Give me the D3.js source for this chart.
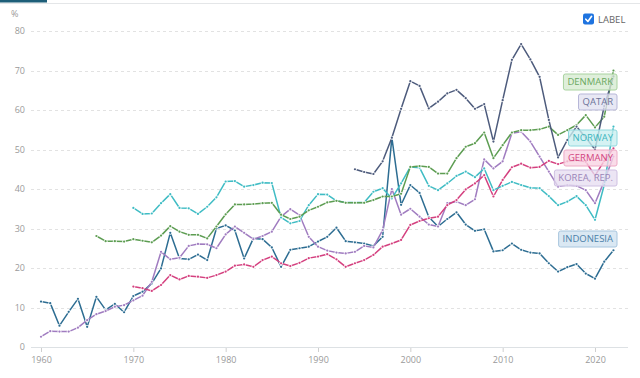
<!DOCTYPE html>
<html><head><meta charset="utf-8">
<script src="https://cdn.jsdelivr.net/npm/d3@7"></script>
<style>
body{margin:0;background:#fff;}
svg{display:block;font-family:"Open Sans",sans-serif;}
</style>
</head><body>
<svg id="chart" width="640" height="378"></svg>
<script>
// ---- data ----
const xTicks = [1960, 1970, 1980, 1990, 2000, 2010, 2020];
const yTicks = [0, 10, 20, 30, 40, 50, 60, 70, 80];
const countries = ["DENMARK", "QATAR", "NORWAY", "GERMANY", "KOREA, REP.", "INDONESIA"];
const startYears = [1966, 1994, 1970, 1970, 1960, 1960];

const denmark = [28.1, 26.8, 26.8, 26.7,
  27.3, 26.9, 26.5, 28.2, 30.6, 29.2, 28.4, 28.4, 27.5, 30.5,
  33.6, 36.1, 36.1, 36.2, 36.4, 36.5, 33.5, 32.4, 33.0, 34.6,
  35.5, 36.6, 37.0, 36.5, 36.5, 36.5, 37.2, 38.1, 38.1, 38.8,
  45.6, 45.8, 45.6, 43.9, 43.9, 47.8, 50.7, 51.6, 54.3, 47.8,
  51.1, 54.3, 54.9, 54.9, 55.1, 55.8, 53.7, 54.9, 56.2, 58.7,
  55.6, 58.3, 70.0];
const qatar = [45.0, 44.3, 43.8, 47.0, 53.0, 60.3,
  67.3, 66.1, 60.4, 62.1, 64.2, 65.1, 63.0, 60.3, 61.5, 52.0,
  62.5, 72.7, 76.7, 72.8, 68.4, 57.5, 48.0, 52.4, 55.8, 53.0,
  50.0, 61.0, 68.5];
const norway = [35.2, 33.7, 33.8, 36.4, 38.7, 35.2, 35.1, 33.7, 35.5, 37.9,
  41.9, 42.0, 40.6, 41.0, 41.6, 41.5, 32.8, 31.3, 31.9, 35.9,
  38.7, 38.6, 37.0, 36.6, 36.6, 36.6, 39.3, 40.2, 37.6, 41.4,
  45.6, 45.4, 40.8, 39.7, 41.4, 43.3, 44.4, 43.0, 45.2, 39.7,
  40.8, 41.8, 41.0, 40.3, 40.2, 38.2, 35.9, 36.8, 38.2, 35.9,
  32.2, 41.0, 55.8];
const germany = [15.3, 14.9, 14.2, 15.7, 18.2, 17.1, 18.0, 17.8, 17.5, 18.2,
  19.1, 20.6, 20.9, 20.3, 22.0, 22.9, 21.2, 20.5, 21.3, 22.5,
  22.9, 23.5, 22.2, 20.3, 21.2, 22.0, 23.3, 25.4, 26.2, 27.1,
  30.9, 31.9, 32.6, 33.0, 35.9, 37.2, 39.9, 41.4, 43.5, 38.1,
  42.3, 45.5, 46.4, 45.4, 45.6, 47.1, 46.3, 47.0, 47.3, 46.9,
  43.4, 47.1, 50.3];
const korea = [2.6, 4.0, 3.9, 3.9, 4.9, 6.8, 8.3, 9.1, 10.2, 10.6,
  11.8, 13.0, 16.5, 24.1, 22.2, 22.6, 25.6, 26.1, 26.0, 25.0,
  28.5, 30.5, 28.9, 27.3, 28.1, 29.2, 33.0, 34.9, 33.4, 27.9,
  25.4, 24.4, 23.9, 23.7, 24.1, 25.6, 25.2, 29.6, 40.0, 33.5,
  35.0, 33.0, 31.0, 30.5, 36.4, 36.8, 35.9, 37.4, 47.5, 45.2,
  47.0, 54.1, 54.5, 52.0, 48.2, 44.4, 40.6, 41.0, 40.8, 39.7,
  36.4, 42.0, 48.2];
const indonesia = [11.5, 11.1, 5.4, 8.9, 12.2, 5.1, 12.7, 9.4, 10.9, 8.8,
  12.9, 14.0, 16.1, 19.9, 28.9, 22.4, 22.2, 23.4, 22.0, 30.0,
  30.8, 29.5, 22.4, 27.5, 27.3, 25.2, 20.3, 24.6, 25.0, 25.4,
  26.7, 27.9, 30.2, 26.8, 26.5, 26.2, 25.6, 27.9, 53.0, 36.0,
  41.0, 39.0, 32.9, 30.5, 32.4, 34.1, 31.0, 29.4, 29.8, 24.2,
  24.5, 26.2, 24.6, 23.9, 23.7, 21.2, 19.1, 20.2, 21.0, 18.6,
  17.3, 21.6, 24.5];

const seriesValues = [denmark, qatar, norway, germany, korea, indonesia];

// ---- styles / layout ----
const lineColors = ["#5d9d52", "#4d5b7c", "#3fbcc4", "#d4407f", "#a07cc0", "#2d6d92"];
const boxFill   = ["#d6ebd1", "#e1e1f1", "#c9eef0", "#f8d4e3", "#e7def1", "#d0e1ef"];
const boxStroke = ["#a9d3a0", "#b7b7d8", "#90d8dd", "#eeaac6", "#cfc0e2", "#a8c6de"];
const textFill  = ["#6aa85f", "#6c7399", "#3db6be", "#d2457f", "#9a84b8", "#4a7fa8"];
const boxTops   = [74, 94, 130, 150, 170, 231];
const drawOrder = [5, 4, 3, 2, 0, 1];

const svg = d3.select("#chart");
const x = d3.scaleLinear().domain([1960, 2020]).range([41, 595]);
const y = d3.scaleLinear().domain([0, 80]).range([347, 31]);
const gridLeft = 31, gridRight = 628;

// top decoration
svg.append("line").attr("x1", 0).attr("x2", 640).attr("y1", 3.5).attr("y2", 3.5)
  .attr("stroke", "#e4e6e8").attr("stroke-width", 1);
svg.append("rect").attr("x", 0).attr("y", 0).attr("width", 47).attr("height", 2.5).attr("fill", "#1d5e78");

// gridlines
svg.append("g").selectAll("line").data(yTicks).join("line")
  .attr("x1", gridLeft).attr("x2", gridRight)
  .attr("y1", d => Math.round(y(d)) + 0.5).attr("y2", d => Math.round(y(d)) + 0.5)
  .attr("stroke", d => d === 0 ? "#dde1e4" : "#e2e2e2")
  .attr("stroke-dasharray", d => d === 0 ? null : "3,3");

// y labels
svg.append("g").selectAll("text").data(yTicks).join("text")
  .attr("x", 25).attr("y", d => y(d)).attr("dy", "0.35em")
  .attr("text-anchor", "end").attr("font-size", 9).attr("fill", "#9a9a9a")
  .text(d => d);
svg.append("text").attr("x", 11).attr("y", 17).attr("font-size", 9).attr("fill", "#9a9a9a").text("%");

// x axis ticks/labels
const xAxis = d3.axisBottom(x).tickValues(xTicks).tickFormat(d3.format("d")).tickSize(4).tickPadding(5);
const gx = svg.append("g").attr("transform", "translate(0,348)").call(xAxis);
gx.select(".domain").remove();
gx.selectAll(".tick line").attr("stroke", "#cfcfcf");
gx.selectAll(".tick text").attr("fill", "#9a9a9a").attr("font-size", 9).attr("font-family", "Open Sans, sans-serif");

// lines
const line = d3.line().x(d => x(d[0])).y(d => y(d[1]));
drawOrder.forEach(i => {
  const pts = seriesValues[i].map((v, k) => [startYears[i] + k, v]);
  const g = svg.append("g");
  g.append("path").attr("d", line(pts)).attr("fill", "none")
    .attr("stroke", lineColors[i]).attr("stroke-width", 1.5).attr("stroke-linejoin", "round");
  g.selectAll("circle.h").data(pts).join("circle").attr("class", "h")
    .attr("cx", d => x(d[0])).attr("cy", d => y(d[1])).attr("r", 2.0).attr("fill", "#fff").attr("fill-opacity", 0.85);
  g.selectAll("circle.d").data(pts).join("circle").attr("class", "d")
    .attr("cx", d => x(d[0])).attr("cy", d => y(d[1])).attr("r", 1.1).attr("fill", lineColors[i]);
});

// label boxes
countries.forEach((name, i) => {
  const g = svg.append("g");
  const t = g.append("text").attr("font-size", 9.5).attr("fill", textFill[i]).text(name);
  const w = t.node().getComputedTextLength();
  const bw = w + 8, right = 617, top = boxTops[i], h = 16;
  g.insert("rect", "text").attr("x", right - bw).attr("y", top).attr("width", bw).attr("height", h)
    .attr("rx", 2).attr("fill", boxFill[i]).attr("fill-opacity", 0.78)
    .attr("stroke", boxStroke[i]).attr("stroke-width", 1);
  t.attr("x", right - bw / 2).attr("y", top + h / 2).attr("dy", "0.36em").attr("text-anchor", "middle");
});

// checkbox + LABEL
svg.append("rect").attr("x", 583).attr("y", 13.5).attr("width", 11).attr("height", 11).attr("rx", 2).attr("fill", "#1f74e0");
svg.append("path").attr("d", "M585.8,19.2 L587.9,21.5 L591.6,16.3").attr("fill", "none")
  .attr("stroke", "#fff").attr("stroke-width", 1.6).attr("stroke-linecap", "round").attr("stroke-linejoin", "round");
svg.append("text").attr("x", 598).attr("y", 22.5).attr("font-size", 9.5).attr("fill", "#666").text("LABEL");
</script>
</body></html>
